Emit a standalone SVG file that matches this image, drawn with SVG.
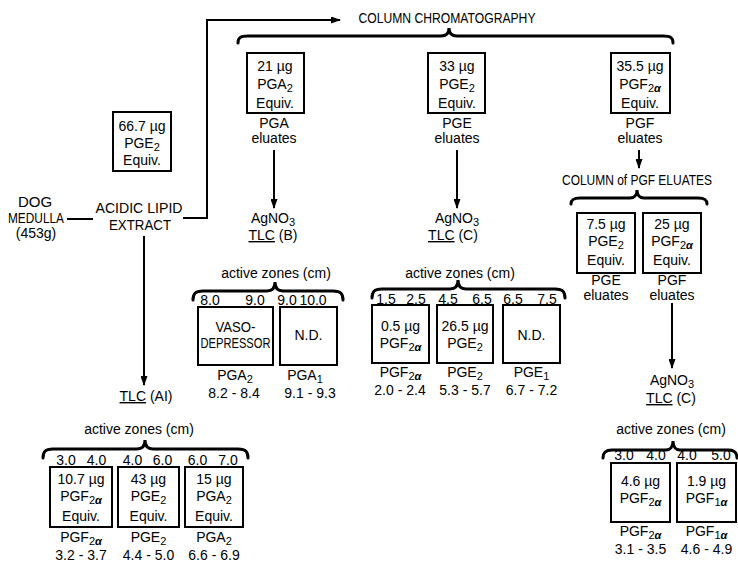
<svg xmlns="http://www.w3.org/2000/svg" width="738" height="564" viewBox="0 0 738 564">
<defs>
<marker id="ah" markerUnits="userSpaceOnUse" markerWidth="10" markerHeight="7" refX="9" refY="3.5" orient="auto">
<path d="M0,0 L10,3.5 L0,7 z" fill="#000"/>
</marker>
<style>
text{font-family:"Liberation Sans",Arial,sans-serif;font-size:14px;fill:#000;text-anchor:middle}
.big{font-size:15px}
.box{fill:#fff;stroke:#000;stroke-width:2}
.ln{fill:none;stroke:#000;stroke-width:2}
.br{fill:none;stroke:#000;stroke-width:3;stroke-linecap:round}
.s{font-size:11px}
.a{font-weight:bold;font-style:italic}
.u{text-decoration:underline}
</style>
</defs>
<rect width="738" height="564" fill="#fff"/>

<g id="connectors">
<path class="ln" d="M67,219 H93"/>
<path class="ln" d="M183,218 H207 V20 H340" marker-end="url(#ah)"/>
<path class="ln" d="M144,236 V385" marker-end="url(#ah)"/>
<path class="ln" d="M274,150 V208" marker-end="url(#ah)"/>
<path class="ln" d="M457,150 V208" marker-end="url(#ah)"/>
<path class="ln" d="M639,150 V168" marker-end="url(#ah)"/>
<path class="ln" d="M672,303 V368" marker-end="url(#ah)"/>
</g>

<g id="braces">
<path class="br" d="M238,43 C238,38 240,36 248,36 L441,36 C446,36 449,34 449,28 C449,34 452,36 457,36 L663,36 C671,36 673,38 673,43"/>
<path class="br" d="M43,458 C43,452 45,449 53,449 L137,449 C142,449 145,446 145,440 C145,446 148,449 153,449 L238,449 C246,449 248,452 248,458"/>
<path class="br" d="M193,300 C193,294 195,291 203,291 L267,291 C272,291 275,288 275,282 C275,288 278,291 283,291 L333,291 C341,291 343,294 343,300"/>
<path class="br" d="M372,298 C372,292 374,289 382,289 L450,289 C455,289 458,286 458,280 C458,286 461,289 466,289 L555,289 C563,289 565,292 565,298"/>
<path class="br" d="M571,204 C571,200 573,198 580,198 L630,198 C634,198 637,195 637,190 C637,195 640,198 644,198 L698,198 C705,198 707,200 707,204"/>
<path class="br" d="M603,458 C603,453 605,450 612,450 L666,450 C670,450 673,447 673,441 C673,447 676,450 680,450 L728,450 C735,450 737,453 737,458"/>
</g>

<g id="title">
<text class="big" x="447" y="23" textLength="177" lengthAdjust="spacingAndGlyphs">COLUMN CHROMATOGRAPHY</text>
</g>

<g id="dog">
<text class="big" x="35" y="207">DOG</text>
<text class="big" x="36" y="223" textLength="56" lengthAdjust="spacingAndGlyphs">MEDULLA</text>
<text x="36" y="238">(453g)</text>
</g>

<g id="extract">
<text class="big" x="139" y="213" textLength="87" lengthAdjust="spacingAndGlyphs">ACIDIC LIPID</text>
<text class="big" x="140" y="230" textLength="62" lengthAdjust="spacingAndGlyphs">EXTRACT</text>
</g>

<g id="total">
<rect class="box" x="113" y="112" width="58" height="59"/>
<text x="142" y="131">66.7 µg</text>
<text x="142" y="148">PGE<tspan class="s" dy="3">2</tspan></text>
<text x="142" y="165">Equiv.</text>
</g>

<g id="pga">
<rect class="box" x="247" y="53" width="57" height="60"/>
<text x="275" y="71">21 µg</text>
<text x="275" y="89">PGA<tspan class="s" dy="3">2</tspan></text>
<text x="275" y="108">Equiv.</text>
<text x="274" y="128">PGA</text>
<text x="274" y="143">eluates</text>
</g>

<g id="pge">
<rect class="box" x="428" y="53" width="57" height="60"/>
<text x="457" y="71">33 µg</text>
<text x="457" y="89">PGE<tspan class="s" dy="3">2</tspan></text>
<text x="457" y="108">Equiv.</text>
<text x="457" y="128">PGE</text>
<text x="457" y="143">eluates</text>
</g>

<g id="pgf">
<rect class="box" x="611" y="53" width="59" height="60"/>
<text x="640" y="71">35.5 µg</text>
<text x="640" y="89">PGF<tspan class="s" dy="3">2<tspan class="a">α</tspan></tspan></text>
<text x="640" y="108">Equiv.</text>
<text x="640" y="128">PGF</text>
<text x="640" y="143">eluates</text>
</g>

<g id="tlc-b">
<text x="273" y="223">AgNO<tspan class="s" dy="3">3</tspan></text>
<text x="273" y="240"><tspan class="u">TLC</tspan> (B)</text>
</g>

<g id="tlc-c1">
<text x="457" y="223">AgNO<tspan class="s" dy="3">3</tspan></text>
<text x="453" y="240"><tspan class="u">TLC</tspan> (C)</text>
</g>

<g id="col-pgf">
<text x="637" y="185" textLength="150" lengthAdjust="spacingAndGlyphs">COLUMN of PGF ELUATES</text>
</g>

<g id="pgf-pge">
<rect class="box" x="577" y="213" width="58" height="60"/>
<text x="606" y="229">7.5 µg</text>
<text x="606" y="246">PGE<tspan class="s" dy="3">2</tspan></text>
<text x="606" y="265">Equiv.</text>
<text x="606" y="285">PGE</text>
<text x="606" y="300">eluates</text>
</g>

<g id="pgf-pgf">
<rect class="box" x="643" y="213" width="58" height="60"/>
<text x="672" y="229">25 µg</text>
<text x="672" y="246">PGF<tspan class="s" dy="3">2<tspan class="a">α</tspan></tspan></text>
<text x="672" y="265">Equiv.</text>
<text x="672" y="285">PGF</text>
<text x="672" y="300">eluates</text>
</g>

<g id="tlc-c2">
<text x="672" y="385">AgNO<tspan class="s" dy="3">3</tspan></text>
<text x="671" y="403"><tspan class="u">TLC</tspan> (C)</text>
</g>

<g id="tlc-ai">
<text x="146" y="401"><tspan class="u">TLC</tspan> (AI)</text>
</g>

<g id="zones-pga">
<text x="276" y="278">active zones (cm)</text>
<text x="210" y="305">8.0</text>
<text x="255" y="305">9.0</text>
<text x="287" y="305">9.0</text>
<text x="313" y="305">10.0</text>
</g>
<g id="vaso">
<rect class="box" x="198" y="307" width="75" height="58"/>
<text class="big" x="235.5" y="332" textLength="40" lengthAdjust="spacingAndGlyphs">VASO-</text>
<text class="big" x="235.5" y="348" textLength="70" lengthAdjust="spacingAndGlyphs">DEPRESSOR</text>
<text x="235" y="380">PGA<tspan class="s" dy="3">2</tspan></text>
<text x="234" y="398">8.2 - 8.4</text>
</g>
<g id="nd-pga">
<rect class="box" x="280" y="307" width="57" height="58"/>
<text x="308.5" y="340">N.D.</text>
<text x="305" y="380">PGA<tspan class="s" dy="3">1</tspan></text>
<text x="310" y="398">9.1 - 9.3</text>
</g>

<g id="zones-pge">
<text x="460" y="278">active zones (cm)</text>
<text x="386" y="304">1.5</text>
<text x="416" y="304">2.5</text>
<text x="448" y="304">4.5</text>
<text x="482" y="304">6.5</text>
<text x="513" y="304">6.5</text>
<text x="547" y="304">7.5</text>
</g>
<g id="pge-z1">
<rect class="box" x="372" y="305" width="57" height="58"/>
<text x="400.5" y="331">0.5 µg</text>
<text x="400.5" y="348">PGF<tspan class="s" dy="3">2<tspan class="a">α</tspan></tspan></text>
<text x="400.5" y="377">PGF<tspan class="s" dy="3">2<tspan class="a">α</tspan></tspan></text>
<text x="400" y="395">2.0 - 2.4</text>
</g>
<g id="pge-z2">
<rect class="box" x="437" y="305" width="56" height="58"/>
<text x="465" y="331">26.5 µg</text>
<text x="465" y="348">PGE<tspan class="s" dy="3">2</tspan></text>
<text x="465" y="377">PGE<tspan class="s" dy="3">2</tspan></text>
<text x="465" y="395">5.3 - 5.7</text>
</g>
<g id="pge-z3">
<rect class="box" x="503" y="305" width="57" height="58"/>
<text x="531.5" y="340">N.D.</text>
<text x="531.5" y="377">PGE<tspan class="s" dy="3">1</tspan></text>
<text x="531.5" y="395">6.7 - 7.2</text>
</g>

<g id="zones-ai">
<text x="139" y="434">active zones (cm)</text>
<text x="66" y="465">3.0</text>
<text x="96.5" y="465">4.0</text>
<text x="132.5" y="465">4.0</text>
<text x="162.5" y="465">6.0</text>
<text x="197.5" y="465">6.0</text>
<text x="228" y="465">7.0</text>
</g>
<g id="ai-z1">
<rect class="box" x="50" y="467" width="62" height="60"/>
<text x="81" y="484">10.7 µg</text>
<text x="81" y="501">PGF<tspan class="s" dy="3">2<tspan class="a">α</tspan></tspan></text>
<text x="81" y="521">Equiv.</text>
<text x="81" y="542">PGF<tspan class="s" dy="3">2<tspan class="a">α</tspan></tspan></text>
<text x="81" y="560">3.2 - 3.7</text>
</g>
<g id="ai-z2">
<rect class="box" x="118" y="467" width="61" height="60"/>
<text x="148.5" y="484">43 µg</text>
<text x="148.5" y="501">PGE<tspan class="s" dy="3">2</tspan></text>
<text x="148.5" y="521">Equiv.</text>
<text x="148.5" y="542">PGE<tspan class="s" dy="3">2</tspan></text>
<text x="148.5" y="560">4.4 - 5.0</text>
</g>
<g id="ai-z3">
<rect class="box" x="185" y="467" width="58" height="60"/>
<text x="214" y="484">15 µg</text>
<text x="214" y="501">PGA<tspan class="s" dy="3">2</tspan></text>
<text x="214" y="521">Equiv.</text>
<text x="214" y="542">PGA<tspan class="s" dy="3">2</tspan></text>
<text x="214" y="560">6.6 - 6.9</text>
</g>

<g id="zones-pgf">
<text x="671" y="434">active zones (cm)</text>
<text x="624" y="460">3.0</text>
<text x="656" y="460">4.0</text>
<text x="687" y="460">4.0</text>
<text x="721" y="460">5.0</text>
</g>
<g id="pgf-z1">
<rect class="box" x="611" y="463" width="59" height="59"/>
<text x="640.5" y="486">4.6 µg</text>
<text x="640.5" y="503">PGF<tspan class="s" dy="3">2<tspan class="a">α</tspan></tspan></text>
<text x="640.5" y="536">PGF<tspan class="s" dy="3">2<tspan class="a">α</tspan></tspan></text>
<text x="640.5" y="554">3.1 - 3.5</text>
</g>
<g id="pgf-z2">
<rect class="box" x="677" y="463" width="59" height="59"/>
<text x="706.5" y="486">1.9 µg</text>
<text x="706.5" y="503">PGF<tspan class="s" dy="3">1<tspan class="a">α</tspan></tspan></text>
<text x="706.5" y="536">PGF<tspan class="s" dy="3">1<tspan class="a">α</tspan></tspan></text>
<text x="706.5" y="554">4.6 - 4.9</text>
</g>
</svg>
